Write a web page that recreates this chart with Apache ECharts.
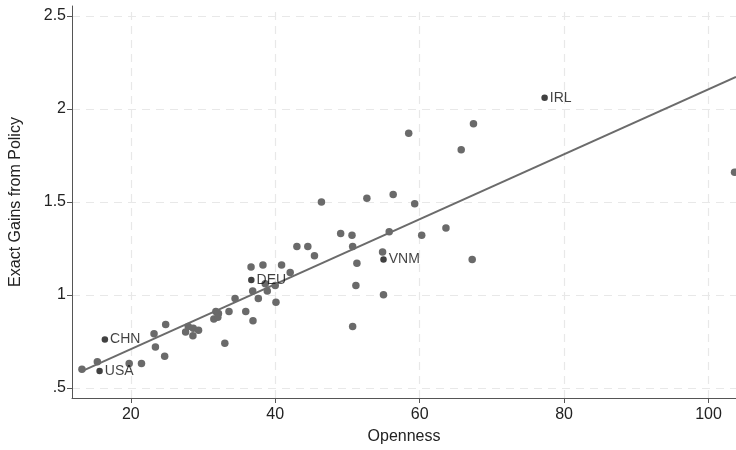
<!DOCTYPE html>
<html>
<head>
<meta charset="utf-8">
<script src="https://cdn.jsdelivr.net/npm/echarts@6/dist/echarts.min.js"></script>
<style>html,body{margin:0;padding:0;background:#fff}#c{width:736px;height:450px}</style>
</head>
<body>
<div id="c"></div>
<script>
// Gray scatter points (Openness, Exact Gains from Policy)
var grayX = [13.24,15.37,19.78,21.48,23.22,23.41,24.69,24.83,27.59,27.96,28.6,28.65,29.38,33.02,31.5,31.78,32.14,32.05,33.6,34.44,35.92,36.92,36.65,36.88,37.66,38.3,38.62,38.9,40.0,40.1,40.88,42.07,43.0,44.51,45.43,46.4,49.06,50.63,50.72,51.31,51.17,50.72,52.69,56.33,54.86,54.99,55.78,59.31,60.28,63.64,67.27,65.75,67.45,58.48,103.6];
var grayY = [0.60,0.64,0.63,0.63,0.79,0.72,0.67,0.84,0.80,0.83,0.78,0.82,0.81,0.74,0.87,0.91,0.90,0.88,0.91,0.98,0.91,0.86,1.15,1.02,0.98,1.16,1.06,1.02,1.05,0.96,1.16,1.12,1.26,1.26,1.21,1.50,1.33,1.32,1.26,1.17,1.05,0.83,1.52,1.54,1.23,1.00,1.34,1.49,1.32,1.36,1.19,1.78,1.92,1.87,1.66];
// Labeled countries
var labNames = ["USA","CHN","DEU","VNM","IRL"];
var labX = [15.68,16.41,36.69,54.99,77.3];
var labY = [0.59,0.76,1.08,1.19,2.06];
// Fitted line endpoints
var fitX = [13.24,103.8];
var fitY = [0.59,2.172];
// Tick values
var xTicks = [20,40,60,80,100];
var yTicks = [0.5,1,1.5,2,2.5];
var yTickLabels = [".5","1","1.5","2","2.5"];

var chart = echarts.init(document.getElementById('c'));
var font = "Liberation Sans";
var axisColor = '#555555';
var gridColor = '#e8e8e8';

var grayData = grayX.map(function(x,i){return [x,grayY[i]];});
var labData = labX.map(function(x,i){return {value:[x,labY[i]], name:labNames[i]};});
var fitData = fitX.map(function(x,i){return [x,fitY[i]];});

var gridLines = [];
xTicks.forEach(function(v){gridLines.push({xAxis:v});});
yTicks.forEach(function(v){gridLines.push({yAxis:v});});

chart.setOption({
  animation:false,
  backgroundColor:'#ffffff',
  grid:{left:70,right:0,top:6,bottom:52,containLabel:false},
  xAxis:{
    type:'value', min:11.86, max:103.8,
    name:'Openness', nameLocation:'middle', nameGap:31,
    nameTextStyle:{fontFamily:font,fontSize:16,color:'#222'},
    axisLine:{show:true,onZero:false,lineStyle:{color:axisColor,width:1}},
    axisTick:{show:true,length:5,lineStyle:{color:axisColor},customValues:xTicks},
    axisLabel:{show:true,fontFamily:font,fontSize:16,color:'#222',margin:9,customValues:xTicks,formatter:function(v){return String(v);}},
    splitLine:{show:false}
  },
  yAxis:{
    type:'value', min:0.445, max:2.554,
    name:'Exact Gains from Policy', nameLocation:'middle', nameGap:48,
    nameTextStyle:{fontFamily:font,fontSize:16,color:'#222'},
    axisLine:{show:true,onZero:false,lineStyle:{color:axisColor,width:1}},
    axisTick:{show:true,length:5,lineStyle:{color:axisColor},customValues:yTicks},
    axisLabel:{show:true,fontFamily:font,fontSize:16,color:'#222',margin:6,customValues:yTicks,
      formatter:function(v){var i=yTicks.indexOf(v);return i>=0?yTickLabels[i]:'';}},
    splitLine:{show:false}
  },
  series:[
    {type:'line', data:[], z:0, silent:true,
     markLine:{silent:true, z:0, symbol:['none','none'], label:{show:false},
       lineStyle:{color:gridColor,type:[8,6],width:1.2}, data:gridLines}},
    {type:'line', data:fitData, showSymbol:false, symbol:'none', z:3, silent:true,
     lineStyle:{color:'#6b6b6b',width:2}},
    {type:'scatter', data:grayData, symbolSize:7.5, z:4,
     itemStyle:{color:'#6a6a6a',opacity:1}},
    {type:'scatter', data:labData, symbolSize:6.5, z:5,
     itemStyle:{color:'#111111'},
     label:{show:true,position:'right',distance:2,formatter:'{b}',fontFamily:font,fontSize:14,color:'#111'}}
  ]
});
</script>
</body>
</html>
